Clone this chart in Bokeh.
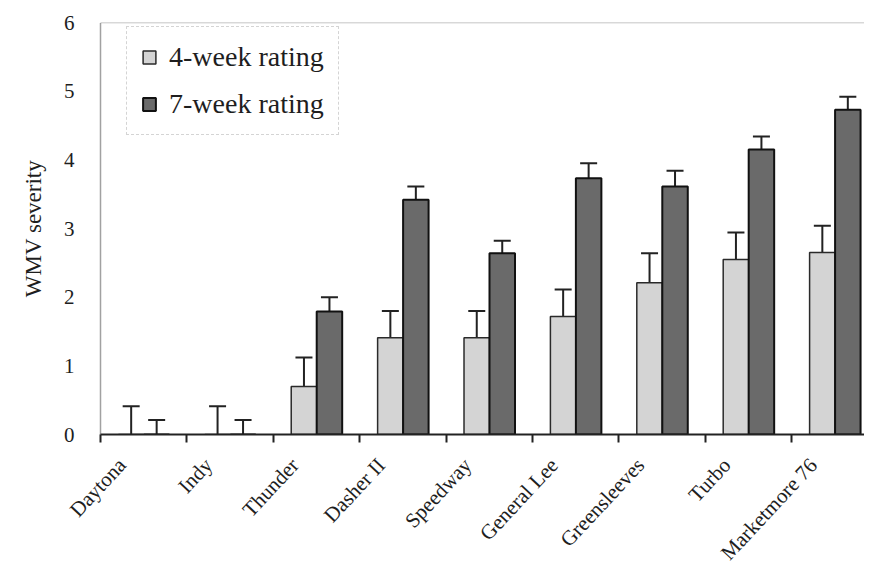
from bokeh.plotting import figure
from bokeh.models import (ColumnDataSource, Range1d, FixedTicker, Whisker, TeeHead,
                          Legend, LegendItem, Span)
from bokeh.embed import file_html
from bokeh.resources import INLINE

categories = ["Daytona", "Indy", "Thunder", "Dasher II", "Speedway",
              "General Lee", "Greensleeves", "Turbo", "Marketmore 76"]
week4 = [0.0, 0.0, 0.70, 1.41, 1.41, 1.72, 2.21, 2.55, 2.65]
week4_err = [0.41, 0.41, 0.42, 0.39, 0.39, 0.39, 0.43, 0.39, 0.39]
week7 = [0.0, 0.0, 1.79, 3.42, 2.64, 3.73, 3.61, 4.15, 4.73]
week7_err = [0.21, 0.21, 0.21, 0.19, 0.18, 0.22, 0.23, 0.19, 0.19]
y_ticks = [0, 1, 2, 3, 4, 5, 6]

FONT = "Liberation Serif"
TXT = "#1e1e1e"

idx = list(range(len(categories)))
shift = 0.15
off4, off7, bw = -0.045 + shift, 0.25 + shift, 0.295

src4 = ColumnDataSource(dict(
    x=[i + off4 for i in idx], top=week4,
    up=[v + e for v, e in zip(week4, week4_err)]))
src7 = ColumnDataSource(dict(
    x=[i + off7 for i in idx], top=week7,
    up=[v + e for v, e in zip(week7, week7_err)]))

p = figure(width=864, height=576, output_backend="svg", toolbar_location=None,
           x_range=Range1d(-0.4 + shift, 8.443 + shift), y_range=Range1d(0, 6),
           min_border_left=100, min_border_top=22, min_border_bottom=142,
           min_border_right=0)
p.outline_line_color = None
p.grid.visible = False
p.background_fill_color = "white"
p.border_fill_color = "white"

r4 = p.vbar(x="x", top="top", width=bw, source=src4, fill_color="#d4d4d4",
            line_color="#2a2a2a", line_width=1.5)
r7 = p.vbar(x="x", top="top", width=bw, source=src7, fill_color="#6a6a6a",
            line_color="#111111", line_width=2)

for s in (src4, src7):
    w = Whisker(base="x", lower="top", upper="up", source=s, dimension="height",
                line_color="#222222", line_width=2,
                upper_head=TeeHead(size=17, line_color="#222222", line_width=2),
                lower_head=None)
    p.add_layout(w)

p.add_layout(Span(location=6, dimension="width", line_color="#666666",
                  line_dash="1 1", line_width=1.5))

# x axis: labels at category positions, ticks at category boundaries
xa = p.xaxis[0]
xa.ticker = FixedTicker(ticks=idx,
                        minor_ticks=[i - 0.4 + shift for i in range(len(categories) + 1)])
xa.major_label_overrides = {i: c for i, c in zip(idx, categories)}
xa.major_label_orientation = 0.82
xa.major_tick_line_color = None
xa.major_tick_out = 0
xa.minor_tick_out = 8
xa.minor_tick_in = 0
xa.minor_tick_line_width = 2
xa.minor_tick_line_color = "#222222"
xa.axis_line_width = 2
xa.axis_line_color = "#222222"
xa.major_label_text_font = FONT
xa.major_label_text_font_size = "21px"
xa.major_label_text_color = TXT
xa.major_label_standoff = 19

# y axis
ya = p.yaxis[0]
ya.ticker = FixedTicker(ticks=y_ticks)
ya.minor_tick_line_color = None
ya.major_tick_line_color = None
ya.axis_line_color = "#444444"
ya.axis_line_dash = "1 1"
ya.axis_line_width = 1.5
ya.major_label_text_font = FONT
ya.major_label_text_font_size = "21px"
ya.major_label_text_color = TXT
ya.major_label_standoff = 20
ya.axis_label = "WMV severity"
ya.axis_label_text_font = FONT
ya.axis_label_text_font_size = "23px"
ya.axis_label_text_font_style = "normal"
ya.axis_label_text_color = TXT
ya.axis_label_standoff = 15

legend = Legend(items=[LegendItem(label="4-week rating", renderers=[r4]),
                       LegendItem(label="7-week rating", renderers=[r7])],
                location=(26, 299), padding=14, spacing=15,
                glyph_width=16, glyph_height=16, label_standoff=12,
                label_text_font=FONT, label_text_font_size="28px",
                label_text_color=TXT,
                border_line_color="#aaaaaa", border_line_dash="2 3",
                border_line_width=1, background_fill_color="white",
                background_fill_alpha=1.0)
p.add_layout(legend)

open("out.html", "w").write(file_html(p, INLINE))
